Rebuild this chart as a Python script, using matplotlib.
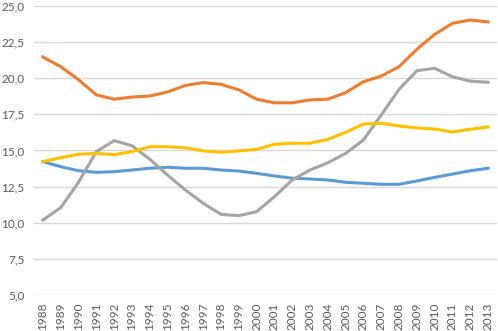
import matplotlib.pyplot as plt
from matplotlib.ticker import FuncFormatter

years = list(range(1988, 2014))

blue = [14.23, 13.88, 13.6, 13.49, 13.53, 13.65, 13.77, 13.84, 13.77, 13.77,
        13.65, 13.58, 13.42, 13.24, 13.08, 13.03, 12.96, 12.8, 12.73, 12.66,
        12.66, 12.89, 13.14, 13.37, 13.6, 13.77]
orange = [21.47, 20.8, 19.9, 18.85, 18.55, 18.7, 18.77, 19.05, 19.5, 19.7,
          19.58, 19.2, 18.55, 18.3, 18.3, 18.5, 18.55, 19.0, 19.76, 20.15,
          20.8, 22.0, 23.04, 23.8, 24.03, 23.9]
gray = [10.19, 11.04, 12.8, 14.92, 15.68, 15.33, 14.4, 13.3, 12.27, 11.35,
        10.58, 10.49, 10.77, 11.8, 12.96, 13.65, 14.15, 14.8, 15.73, 17.46,
        19.23, 20.52, 20.69, 20.1, 19.8, 19.72]
yellow = [14.23, 14.5, 14.74, 14.8, 14.71, 14.92, 15.26, 15.26, 15.19, 14.97,
          14.88, 14.97, 15.08, 15.43, 15.5, 15.5, 15.77, 16.26, 16.83, 16.88,
          16.7, 16.56, 16.49, 16.28, 16.47, 16.63]

plt.rcParams['font.family'] = ['Lato', 'DejaVu Sans']

fig = plt.figure(figsize=(4.98, 3.31), dpi=100)
ax = fig.add_axes([34 / 498, 1 - 295 / 331, 463 / 498, 289 / 331])

x = list(range(len(years)))
ax.plot(x, blue, color='#5B9BD5', lw=2.2)
ax.plot(x, orange, color='#ED7D31', lw=2.2)
ax.plot(x, gray, color='#A5A5A5', lw=2.2)
ax.plot(x, yellow, color='#FFC000', lw=2.2)

ax.set_xlim(-0.5, len(years) - 0.5)
ax.set_ylim(5, 25)
ax.set_yticks([5, 7.5, 10, 12.5, 15, 17.5, 20, 22.5, 25])
ax.yaxis.set_major_formatter(FuncFormatter(lambda v, p: ('%.1f' % v).replace('.', ',')))
ax.set_xticks(x)
ax.set_xticklabels([str(y) for y in years], rotation=90)

ax.grid(axis='y', color='#D9D9D9', lw=1)
ax.set_axisbelow(True)
for s in ax.spines.values():
    s.set_visible(False)
ax.tick_params(length=0, colors='#595959', labelsize=8.5)
ax.tick_params(axis='y', pad=7)
ax.tick_params(axis='x', pad=5.5)

fig.savefig('out.png', dpi=100)
